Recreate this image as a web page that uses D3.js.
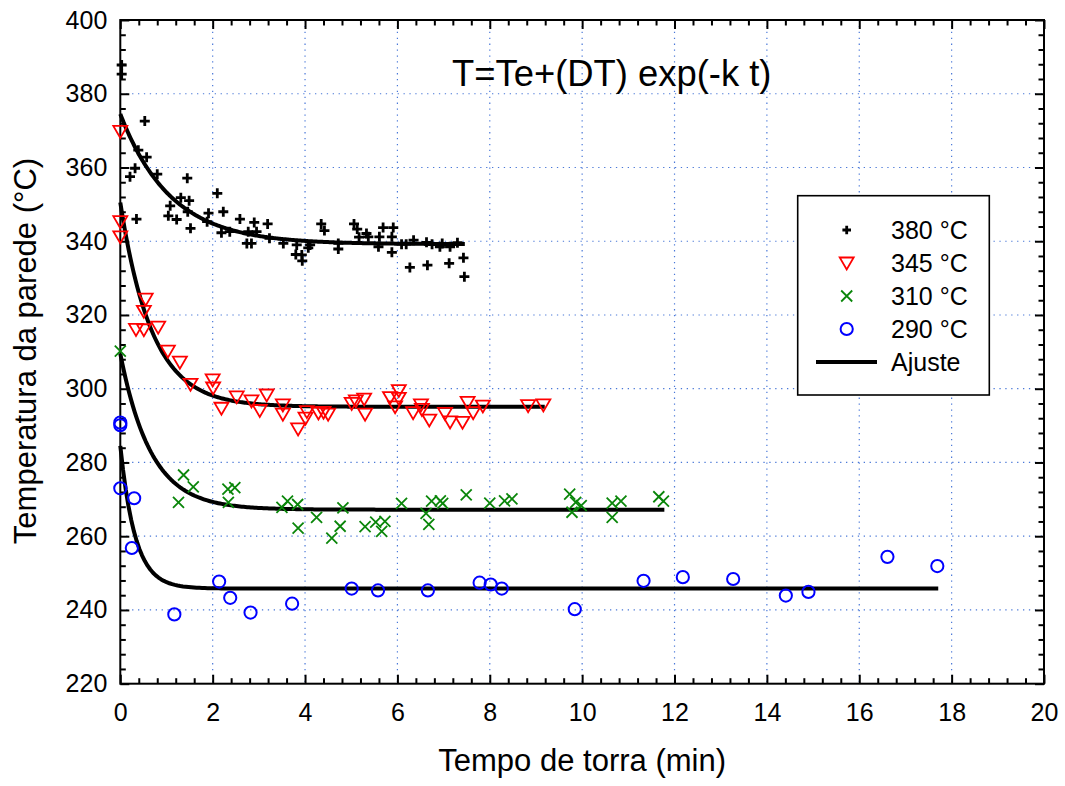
<!DOCTYPE html>
<html><head><meta charset="utf-8">
<script src="https://cdn.jsdelivr.net/npm/d3@7"></script>
<style>
body{margin:0;background:#fff;}
svg{display:block;font-family:"Liberation Sans",Arial,sans-serif;}
</style></head>
<body>
<script>
// ---- data ----
const xTicks = [0,2,4,6,8,10,12,14,16,18,20];
const yTicks = [220,240,260,280,300,320,340,360,380,400];
const seriesNames = ["380 °C","345 °C","310 °C","290 °C"];
const fitName = "Ajuste";
const formulaText = "T=Te+(DT) exp(-k t)";
const xTitle = "Tempo de torra (min)";
const yTitle = "Temperatura da parede (°C)";

const s380 = [[0.03,387.8],[0.03,385.3],[0.53,372.6],[0.39,364.7],[0.57,362.8],[0.32,359.8],[0.21,357.5],[0.35,346.0],[0.80,358.2],[1.45,357.1],[1.31,351.8],[1.49,351.0],[1.08,349.6],[1.04,346.9],[1.22,345.9],[1.46,348.0],[1.52,343.5],[2.10,353.0],[1.91,347.6],[1.88,345.3],[2.23,348.0],[2.19,342.3],[2.37,342.6],[2.59,346.0],[2.90,345.1],[2.77,342.6],[2.95,342.6],[2.74,339.4],[2.84,339.4],[3.19,344.7],[3.23,340.8],[3.53,339.4],[3.82,339.0],[3.80,336.4],[3.93,336.3],[3.94,334.7],[4.07,338.2],[4.11,339.0],[4.35,344.7],[4.42,342.9],[4.72,339.4],[4.72,337.9],[5.06,344.7],[5.13,343.3],[5.17,341.1],[5.33,342.1],[5.37,341.2],[5.59,338.5],[5.61,341.2],[5.69,343.7],[5.88,341.2],[5.91,343.7],[5.88,337.0],[6.09,339.2],[6.19,339.2],[6.35,340.3],[6.27,332.9],[6.63,339.7],[6.75,339.2],[6.65,333.5],[6.92,338.5],[6.97,339.4],[7.14,338.5],[7.30,339.6],[7.12,334.0],[7.43,335.5],[7.45,330.4]];
const s345 = [[0.0,369.8],[0.0,345.3],[0.0,341.2],[0.55,324.3],[0.51,321.0],[0.34,316.1],[0.51,316.0],[0.82,316.7],[1.03,310.2],[1.29,307.2],[1.52,301.2],[2.0,302.4],[2.01,300.2],[2.19,294.7],[2.52,297.8],[2.84,296.7],[3.02,294.1],[3.17,298.3],[3.52,295.6],[3.52,293.1],[3.85,289.1],[4.01,292.0],[4.04,293.8],[4.29,293.4],[4.40,293.6],[4.50,293.1],[5.01,296.0],[5.10,296.7],[5.28,297.2],[5.30,293.1],[5.84,297.6],[6.03,299.5],[6.03,297.4],[5.95,295.1],[6.34,293.5],[6.51,295.6],[6.53,294.4],[6.69,291.5],[7.03,293.3],[7.14,291.0],[7.41,290.9],[7.52,296.3],[7.64,293.5],[7.85,295.3],[8.83,295.4],[9.16,295.6]];
const s310 = [[0.0,310.2],[1.37,276.6],[1.58,273.4],[1.26,269.2],[2.33,272.8],[2.48,273.2],[2.34,269.2],[3.50,267.8],[3.62,269.5],[3.84,268.6],[3.85,262.2],[4.25,265.1],[4.58,259.5],[4.76,262.7],[4.82,267.7],[5.30,262.6],[5.53,263.8],[5.66,261.3],[5.73,264.0],[6.09,268.9],[6.62,266.2],[6.68,263.2],[6.74,269.5],[6.93,269.6],[6.98,268.9],[7.49,271.2],[8.0,269.0],[8.32,269.6],[8.48,270.1],[9.73,271.4],[9.86,269.2],[9.98,268.3],[9.78,266.5],[10.65,269.0],[10.84,269.5],[10.65,265.1],[11.66,270.7],[11.76,269.5]];
const s290 = [[0.0,290.8],[0.0,290.1],[0.0,273.0],[0.30,270.3],[0.25,256.8],[1.17,238.8],[2.14,247.7],[2.38,243.3],[2.82,239.3],[3.72,241.7],[5.01,245.8],[5.58,245.3],[6.66,245.3],[7.78,247.4],[8.02,246.9],[8.26,245.8],[9.84,240.2],[11.33,247.9],[12.18,248.9],[13.27,248.4],[14.41,243.9],[14.90,244.9],[16.61,254.4],[17.69,251.9]];

// fit parameters T = Te + DT*exp(-k t)
const fitTe = [339.2, 295.1, 267.2, 245.8];
const fitDT = [35.3, 55.4, 42.3, 38.7];
const fitK = [0.92, 1.45, 1.5, 3.1];
const fitTmax = [7.46, 9.19, 11.78, 17.71];

// ---- drawing ----
const W = 1065, H = 786;
const L = 120.3, R = 1044, T = 20, B = 683.7;
const svg = d3.select("body").append("svg").attr("width", W).attr("height", H);
svg.append("rect").attr("width", W).attr("height", H).attr("fill", "#fff");

const x = d3.scaleLinear().domain([0, 20]).range([L, R]);
const y = d3.scaleLinear().domain([220, 400]).range([B, T]);

// grid
const grid = svg.append("g").attr("stroke", "#4a78d8").attr("stroke-width", 1.2).attr("stroke-dasharray", "1.3,4.6");
grid.selectAll("line.gx").data(xTicks.slice(1, -1)).join("line")
  .attr("x1", d => x(d)).attr("x2", d => x(d)).attr("y1", T).attr("y2", B);
grid.selectAll("line.gy").data(yTicks.slice(1, -1)).join("line")
  .attr("y1", d => y(d)).attr("y2", d => y(d)).attr("x1", L).attr("x2", R);

// axes
const xMinor = d3.range(0, 20.001, 0.4).filter(v => Math.abs(v / 2 - Math.round(v / 2)) > 1e-6);
const yMinor = d3.range(220, 400.001, 4).filter(v => (Math.round(v) % 20) !== 0);
function styleAxis(g) {
  g.select(".domain").remove();
  g.selectAll(".tick line").attr("stroke", "#000").attr("stroke-width", 2);
  g.selectAll(".tick text").attr("font-size", 25).attr("fill", "#000")
    .attr("font-family", '"Liberation Sans",Arial,sans-serif');
}
svg.append("g").attr("transform", `translate(0,${B})`)
  .call(d3.axisBottom(x).tickValues(xTicks).tickSize(-9).tickPadding(20).tickFormat(d3.format("d"))).call(styleAxis);
svg.append("g").attr("transform", `translate(0,${B})`)
  .call(d3.axisBottom(x).tickValues(xMinor).tickSize(-5.5).tickFormat("")).call(styleAxis);
svg.append("g").attr("transform", `translate(0,${T})`)
  .call(d3.axisTop(x).tickValues(xTicks).tickSize(-9).tickFormat("")).call(styleAxis);
svg.append("g").attr("transform", `translate(0,${T})`)
  .call(d3.axisTop(x).tickValues(xMinor).tickSize(-5.5).tickFormat("")).call(styleAxis);
svg.append("g").attr("transform", `translate(${L},0)`)
  .call(d3.axisLeft(y).tickValues(yTicks).tickSize(-9).tickPadding(13).tickFormat(d3.format("d"))).call(styleAxis);
svg.append("g").attr("transform", `translate(${L},0)`)
  .call(d3.axisLeft(y).tickValues(yMinor).tickSize(-5.5).tickFormat("")).call(styleAxis);
svg.append("g").attr("transform", `translate(${R},0)`)
  .call(d3.axisRight(y).tickValues(yTicks).tickSize(-9).tickFormat("")).call(styleAxis);
svg.append("g").attr("transform", `translate(${R},0)`)
  .call(d3.axisRight(y).tickValues(yMinor).tickSize(-5.5).tickFormat("")).call(styleAxis);

// frame
svg.append("rect").attr("x", L).attr("y", T).attr("width", R - L).attr("height", B - T)
  .attr("fill", "none").attr("stroke", "#000").attr("stroke-width", 2);

// fit curves
const line = d3.line().x(d => x(d[0])).y(d => y(d[1]));
const fitG = svg.append("g");
fitTe.forEach((te, i) => {
  const n = 300;
  const pts = d3.range(n + 1).map(j => {
    const t = fitTmax[i] * j / n;
    return [t, te + fitDT[i] * Math.exp(-fitK[i] * t)];
  });
  fitG.append("path").attr("d", line(pts)).attr("fill", "none")
    .attr("stroke", "#000").attr("stroke-width", 4).attr("stroke-linejoin", "round");
});

// marker makers
function plus(g, cx, cy, s) {
  g.append("path").attr("d", `M${cx - s},${cy}H${cx + s}M${cx},${cy - s}V${cy + s}`)
    .attr("stroke", "#000").attr("stroke-width", 2.8).attr("fill", "none");
}
function tri(g, cx, cy) {
  g.append("path").attr("d", `M${cx - 7},${cy - 5.5}L${cx + 7},${cy - 5.5}L${cx},${cy + 6.5}Z`)
    .attr("stroke", "#ff0000").attr("stroke-width", 1.8).attr("fill", "none").attr("stroke-linejoin", "miter");
}
function cross(g, cx, cy) {
  const s = 5.5;
  g.append("path").attr("d", `M${cx - s},${cy - s}L${cx + s},${cy + s}M${cx - s},${cy + s}L${cx + s},${cy - s}`)
    .attr("stroke", "#0a860a").attr("stroke-width", 1.8).attr("fill", "none");
}
function circ(g, cx, cy) {
  g.append("circle").attr("cx", cx).attr("cy", cy).attr("r", 6.1)
    .attr("stroke", "#0000ff").attr("stroke-width", 2).attr("fill", "none");
}

const pg = svg.append("g");
s290.forEach(d => circ(pg, x(d[0]), y(d[1])));
s310.forEach(d => cross(pg, x(d[0]), y(d[1])));
s345.forEach(d => tri(pg, x(d[0]), y(d[1])));
s380.forEach(d => plus(pg, x(d[0]), y(d[1]), 5));

// formula
svg.append("text").attr("x", 452).attr("y", 86).attr("font-size", 36.4).attr("fill", "#000").text(formulaText);

// legend
const lg = svg.append("g");
lg.append("rect").attr("x", 797.7).attr("y", 195.7).attr("width", 191.6).attr("height", 199.3)
  .attr("fill", "#fff").attr("stroke", "#000").attr("stroke-width", 1.6);
const rowY = [230, 263, 296, 329, 362];
const mk = [ (cx, cy) => plus(lg, cx, cy, 4.3), (cx, cy) => tri(lg, cx, cy), (cx, cy) => cross(lg, cx, cy), (cx, cy) => circ(lg, cx, cy) ];
seriesNames.forEach((nm, i) => {
  mk[i](846.7, rowY[i]);
  lg.append("text").attr("x", 891).attr("y", rowY[i] + 9.3).attr("font-size", 25).attr("fill", "#000").text(nm);
});
lg.append("line").attr("x1", 816).attr("x2", 877).attr("y1", rowY[4]).attr("y2", rowY[4])
  .attr("stroke", "#000").attr("stroke-width", 4);
lg.append("text").attr("x", 891).attr("y", rowY[4] + 8.5).attr("font-size", 25).attr("fill", "#000").text(fitName);

// axis titles
svg.append("text").attr("x", (L + R) / 2).attr("y", 771).attr("text-anchor", "middle")
  .attr("font-size", 31).attr("fill", "#000").text(xTitle);
svg.append("text").attr("transform", `translate(35.5,351) rotate(-90)`).attr("text-anchor", "middle")
  .attr("font-size", 31).attr("fill", "#000").text(yTitle);
</script>
</body></html>
